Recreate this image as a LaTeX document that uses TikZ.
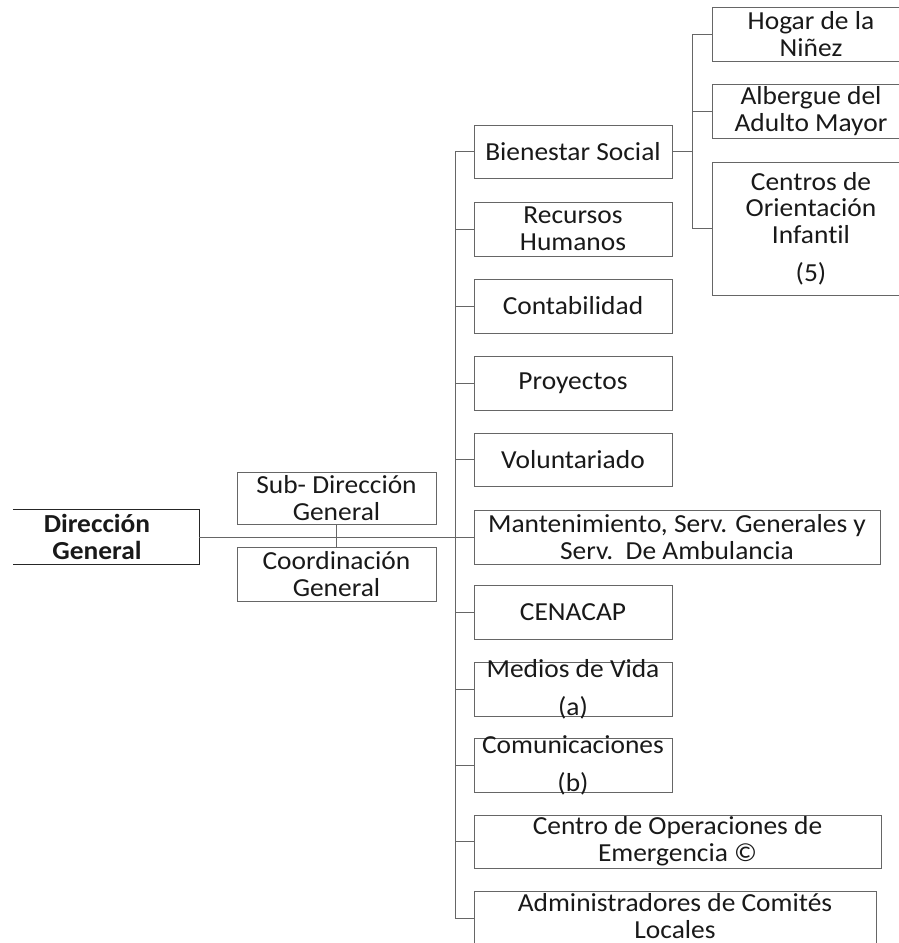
\documentclass[tikz,border=0pt]{standalone}
\usepackage{fontspec}
\setmainfont{Carlito}[Ligatures=NoCommon, FakeStretch=1.055]
\begin{document}
\begin{tikzpicture}[x=1pt,y=-1pt,
  txt/.style={inner sep=0pt, align=center, font=\fontsize{26}{26.8}\selectfont, text=black!90},
  box/.style={txt, draw=black!60, line width=0.9pt},
  w1/.style={box, minimum width=198pt, minimum height=54pt},
  link/.style={draw=black!60, line width=0.9pt},
]
\useasboundingbox (0,0) rectangle (898,943);
% top level
\node[txt, minimum width=204pt, minimum height=54pt, font=\bfseries\fontsize{26}{26.8}\selectfont] (dir) at (97,537) {Dirección\\General};
\node[w1, minimum width=199pt, minimum height=52pt] (sub) at (336.5,498) {Sub- Dirección\\General};
\node[w1, minimum width=199pt] (coord) at (336.5,574) {Coordinación\\General};
% main column
\node[w1, minimum height=53pt] (bien) at (573,151.5) {Bienestar Social};
\node[w1] (rh) at (573,229) {Recursos\\Humanos};
\node[w1] (cont) at (573,306) {Contabilidad};
\node[w1] (proy) at (573,383) {Proyectos};
\node[w1, minimum height=53pt] (vol) at (573,459.5) {Voluntariado};
\node[w1, minimum width=406pt] (mant) at (677,537) {Mantenimiento, Serv. Generales y\\Serv.\ \ De Ambulancia};
\node[w1] (cen) at (573,612) {CENACAP};
\node[w1, label={[txt]center:{Medios de Vida\\[11pt](a)}}] (med) at (573,689) {};
\node[w1, label={[txt]center:{Comunicaciones\\[11pt](b)}}] (com) at (573,765) {};
\node[w1, minimum width=407pt, minimum height=53pt] (coe) at (677.5,841.5) {Centro de Operaciones de\\Emergencia ©};
\node[w1, minimum width=402pt, label={[txt, yshift=2pt]center:{Administradores de Comités\\Locales}}] (adm) at (675,918) {};
% sub column
\node[w1] (hog) at (811,34) {Hogar de la\\Niñez};
\node[w1] (alb) at (811,111) {Albergue del\\Adulto Mayor};
\node[w1, minimum height=133pt] (cent) at (811,228.5) {Centros de\\Orientación\\Infantil\\[11pt](5)};
% Dirección box (open on the left)
\draw[line width=1pt, black!85] ([xshift=18pt]dir.north west) -- (dir.north east) -- (dir.south east) -- ([xshift=18pt]dir.south west);
% connectors
\coordinate (trunk) at (455,0);
\coordinate (st) at (692,0);
\draw[link] (dir.east) -- (mant.west);
\draw[link] (sub.south) -- (coord.north);
\draw[link] (bien.west) -| (trunk |- adm.west) -- (adm.west);
\foreach \n in {rh,cont,proy,vol,cen,med,com,coe}
  \draw[link] (\n.west) -- (\n.west -| trunk);
\draw[link] (hog.west) -- (hog.west -| st) -- (cent.west -| st) -- (cent.west);
\draw[link] (alb.west) -- (alb.west -| st);
\draw[link] (bien.east) -- (bien.east -| st);
\end{tikzpicture}
\end{document}
